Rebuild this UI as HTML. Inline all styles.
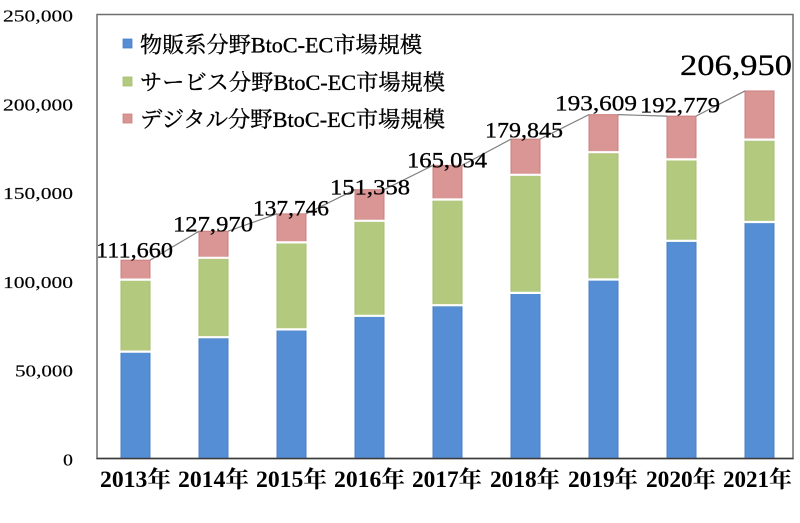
<!DOCTYPE html>
<html><head><meta charset="utf-8"><style>
html,body{margin:0;padding:0;background:#fff;}
svg{display:block;}
.t{font-family:"Liberation Serif","Noto Serif CJK SC",serif;fill:#000;}
</style></head><body>
<svg width="800" height="523" viewBox="0 0 800 523" xmlns="http://www.w3.org/2000/svg">
<rect x="0" y="0" width="800" height="523" fill="#fff"/>
<!-- frame -->
<rect x="97" y="14.5" width="696" height="444" fill="none" stroke="#6f6f6f" stroke-width="1.5"/>

<!-- bars -->
<g stroke-width="1">
<rect x="121" y="352.06" width="29" height="106.44" fill="#558ed5" stroke="#4a7fc4"/>
<rect x="121" y="280.01" width="29" height="72.05" fill="#b3ca7e" stroke="#a5bf6c"/>
<rect x="121" y="260.19" width="29" height="19.82" fill="#d99694" stroke="#cc7f7d"/>
<rect x="199" y="337.66" width="29" height="120.84" fill="#558ed5" stroke="#4a7fc4"/>
<rect x="199" y="258.30" width="29" height="79.36" fill="#b3ca7e" stroke="#a5bf6c"/>
<rect x="199" y="231.23" width="29" height="27.07" fill="#d99694" stroke="#cc7f7d"/>
<rect x="277" y="329.92" width="29" height="128.58" fill="#558ed5" stroke="#4a7fc4"/>
<rect x="277" y="242.87" width="29" height="87.05" fill="#b3ca7e" stroke="#a5bf6c"/>
<rect x="277" y="213.86" width="29" height="29.01" fill="#d99694" stroke="#cc7f7d"/>
<rect x="355" y="316.34" width="29" height="142.16" fill="#558ed5" stroke="#4a7fc4"/>
<rect x="355" y="221.27" width="29" height="95.07" fill="#b3ca7e" stroke="#a5bf6c"/>
<rect x="355" y="189.69" width="29" height="31.58" fill="#d99694" stroke="#cc7f7d"/>
<rect x="433" y="305.75" width="29" height="152.75" fill="#558ed5" stroke="#4a7fc4"/>
<rect x="433" y="199.96" width="29" height="105.79" fill="#b3ca7e" stroke="#a5bf6c"/>
<rect x="433" y="165.36" width="29" height="34.60" fill="#d99694" stroke="#cc7f7d"/>
<rect x="511" y="293.35" width="29" height="165.15" fill="#558ed5" stroke="#4a7fc4"/>
<rect x="511" y="175.29" width="29" height="118.06" fill="#b3ca7e" stroke="#a5bf6c"/>
<rect x="511" y="139.10" width="29" height="36.19" fill="#d99694" stroke="#cc7f7d"/>
<rect x="589" y="279.99" width="29" height="178.51" fill="#558ed5" stroke="#4a7fc4"/>
<rect x="589" y="152.70" width="29" height="127.29" fill="#b3ca7e" stroke="#a5bf6c"/>
<rect x="589" y="114.65" width="29" height="38.05" fill="#d99694" stroke="#cc7f7d"/>
<rect x="667" y="241.24" width="29" height="217.26" fill="#558ed5" stroke="#4a7fc4"/>
<rect x="667" y="159.84" width="29" height="81.40" fill="#b3ca7e" stroke="#a5bf6c"/>
<rect x="667" y="116.13" width="29" height="43.71" fill="#d99694" stroke="#cc7f7d"/>
<rect x="745" y="222.53" width="29" height="235.97" fill="#558ed5" stroke="#4a7fc4"/>
<rect x="745" y="140.08" width="29" height="82.45" fill="#b3ca7e" stroke="#a5bf6c"/>
<rect x="745" y="90.96" width="29" height="49.12" fill="#d99694" stroke="#cc7f7d"/>
</g>
<!-- white separators -->
<g stroke="#fff" stroke-width="2.2">
<line x1="120.5" x2="150.5" y1="351.6" y2="351.6"/><line x1="120.5" x2="150.5" y1="279.6" y2="279.6"/>
<line x1="198.5" x2="228.5" y1="337.2" y2="337.2"/><line x1="198.5" x2="228.5" y1="257.8" y2="257.8"/>
<line x1="276.5" x2="306.5" y1="329.4" y2="329.4"/><line x1="276.5" x2="306.5" y1="242.4" y2="242.4"/>
<line x1="354.5" x2="384.5" y1="315.8" y2="315.8"/><line x1="354.5" x2="384.5" y1="220.8" y2="220.8"/>
<line x1="432.5" x2="462.5" y1="305.2" y2="305.2"/><line x1="432.5" x2="462.5" y1="199.5" y2="199.5"/>
<line x1="510.5" x2="540.5" y1="292.9" y2="292.9"/><line x1="510.5" x2="540.5" y1="174.8" y2="174.8"/>
<line x1="588.5" x2="618.5" y1="279.5" y2="279.5"/><line x1="588.5" x2="618.5" y1="152.2" y2="152.2"/>
<line x1="666.5" x2="696.5" y1="240.8" y2="240.8"/><line x1="666.5" x2="696.5" y1="159.4" y2="159.4"/>
<line x1="744.5" x2="774.5" y1="222.0" y2="222.0"/><line x1="744.5" x2="774.5" y1="139.6" y2="139.6"/>
</g>

<!-- baseline -->
<line x1="96.5" x2="793.5" y1="458.5" y2="458.5" stroke="#3a3a3a" stroke-width="1.5"/>

<!-- series lines -->
<g stroke="#7f7f7f" stroke-width="1.2" fill="none">
<line x1="150" y1="260.19" x2="199" y2="231.23"/>
<line x1="228" y1="231.23" x2="277" y2="213.86"/>
<line x1="306" y1="213.86" x2="355" y2="189.69"/>
<line x1="384" y1="189.69" x2="433" y2="165.36"/>
<line x1="462" y1="165.36" x2="511" y2="139.10"/>
<line x1="540" y1="139.10" x2="589" y2="114.65"/>
<line x1="618" y1="114.65" x2="667" y2="116.13"/>
<line x1="696" y1="116.13" x2="745" y2="90.96"/>
</g>

<!-- y tick labels -->
<g class="t" font-size="17" text-anchor="end" stroke="#000" stroke-width="0.15">
<text x="73" y="21.5" textLength="70" lengthAdjust="spacingAndGlyphs">250,000</text>
<text x="73" y="110.3" textLength="70" lengthAdjust="spacingAndGlyphs">200,000</text>
<text x="73" y="199.1" textLength="70" lengthAdjust="spacingAndGlyphs">150,000</text>
<text x="73" y="287.9" textLength="70" lengthAdjust="spacingAndGlyphs">100,000</text>
<text x="73" y="376.7" textLength="58" lengthAdjust="spacingAndGlyphs">50,000</text>
<text x="73" y="465.5" textLength="10" lengthAdjust="spacingAndGlyphs">0</text>
</g>

<!-- x labels -->
<g class="t" font-size="23" font-weight="bold">
<text x="100" y="487" textLength="71" lengthAdjust="spacingAndGlyphs">2013年</text>
<text x="178" y="487" textLength="71" lengthAdjust="spacingAndGlyphs">2014年</text>
<text x="256" y="487" textLength="71" lengthAdjust="spacingAndGlyphs">2015年</text>
<text x="334" y="487" textLength="71" lengthAdjust="spacingAndGlyphs">2016年</text>
<text x="412" y="487" textLength="70" lengthAdjust="spacingAndGlyphs">2017年</text>
<text x="490" y="487" textLength="70" lengthAdjust="spacingAndGlyphs">2018年</text>
<text x="568" y="487" textLength="70" lengthAdjust="spacingAndGlyphs">2019年</text>
<text x="646" y="487" textLength="70" lengthAdjust="spacingAndGlyphs">2020年</text>
<text x="723" y="487" textLength="69" lengthAdjust="spacingAndGlyphs">2021年</text>
</g>

<!-- data labels -->
<g class="t" font-size="22" stroke="#000" stroke-width="0.3">
<text x="96" y="257.5" textLength="77" lengthAdjust="spacingAndGlyphs">111,660</text>
<text x="173" y="231.5" textLength="80" lengthAdjust="spacingAndGlyphs">127,970</text>
<text x="253" y="215.5" textLength="76" lengthAdjust="spacingAndGlyphs">137,746</text>
<text x="330" y="194.5" textLength="80" lengthAdjust="spacingAndGlyphs">151,358</text>
<text x="407" y="167.5" textLength="80" lengthAdjust="spacingAndGlyphs">165,054</text>
<text x="485" y="137.5" textLength="78" lengthAdjust="spacingAndGlyphs">179,845</text>
<text x="555" y="110.5" textLength="82" lengthAdjust="spacingAndGlyphs">193,609</text>
<text x="640" y="112.5" textLength="80" lengthAdjust="spacingAndGlyphs">192,779</text>
</g>
<text class="t" x="680" y="75" font-size="30" stroke="#000" stroke-width="0.3" textLength="112" lengthAdjust="spacingAndGlyphs">206,950</text>

<!-- legend -->
<rect x="123" y="39" width="9" height="9" fill="#558ed5" stroke="#4a7fc4" stroke-width="0.8"/>
<rect x="123" y="77" width="9" height="9" fill="#b3ca7e" stroke="#a5bf6c" stroke-width="0.8"/>
<rect x="123" y="114" width="9" height="9" fill="#d99694" stroke="#cc7f7d" stroke-width="0.8"/>
<g class="t" font-size="22" stroke="#000" stroke-width="0.35">
<text x="140" y="52.5" textLength="282" lengthAdjust="spacingAndGlyphs">物販系分野BtoC-EC市場規模</text>
<text x="140" y="90" textLength="305" lengthAdjust="spacingAndGlyphs">サービス分野BtoC-EC市場規模</text>
<text x="140" y="127" textLength="305" lengthAdjust="spacingAndGlyphs">デジタル分野BtoC-EC市場規模</text>
</g>
</svg>
</body></html>
